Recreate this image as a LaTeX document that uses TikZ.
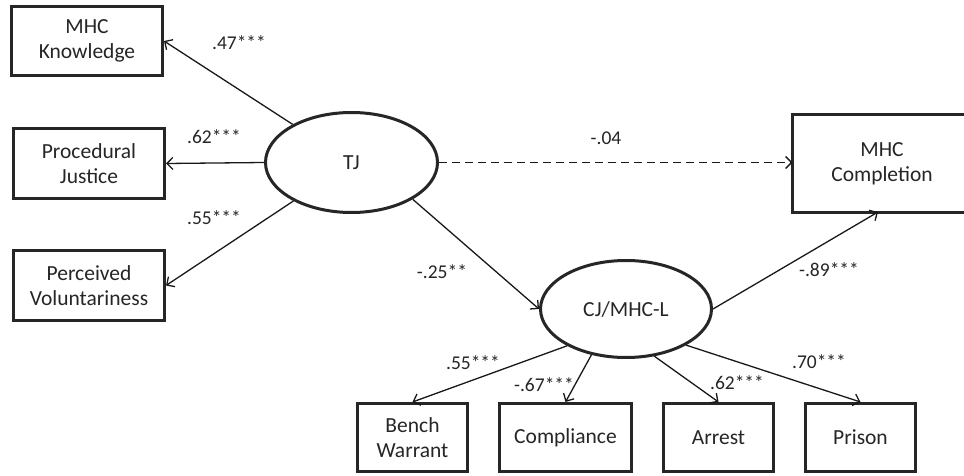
\documentclass[tikz,border=0pt]{standalone}
\usepackage{fontspec}
\setmainfont{Carlito}
\usetikzlibrary{arrows.meta,shapes.geometric}
\begin{document}
\begin{tikzpicture}[x=1pt,y=-1pt,
  obsbox/.style={draw=black!85,line width=3pt,rectangle,inner sep=0pt,align=center,
    font=\fontsize{21.5}{25}\selectfont,text=black!85},
  latent/.style={draw=black!85,line width=3pt,ellipse,inner sep=0pt,
    font=\fontsize{21.5}{25}\selectfont,text=black!85},
  path/.style={draw=black!90,line width=1.3pt,-{Straight Barb[length=6pt,width=12pt,line width=1.3pt]}},
  coef/.style={inner sep=0pt,font=\fontsize{19.5}{22}\selectfont,text=black!85}]
\useasboundingbox[fill=white] (0,0) rectangle (964,476);
% observed indicators of TJ
\node[obsbox,minimum width=151pt,minimum height=69pt] (mk) at (87,41) {MHC\\Knowledge};
\node[obsbox,minimum width=151pt,minimum height=70pt] (pj) at (89,163.5) {Procedural\\Justice};
\node[obsbox,minimum width=151pt,minimum height=70pt] (pv) at (89,285.5) {Perceived\\Voluntariness};
% latent variables
\node[latent,minimum width=172pt,minimum height=100pt] (tj) at (351.5,162.5) {TJ};
\node[latent,minimum width=171pt,minimum height=97pt] (cj) at (626,309) {CJ/MHC-L};
% outcome (box runs off the right edge of the picture)
\node[obsbox,draw=none,minimum width=176pt,minimum height=94pt] (mc) at (882,163.5) {MHC\\Completion};
\draw[draw=black!85,line width=3pt] (mc.north west) ++(200,0) -- (mc.north west) -- (mc.south west) -- ++(200,0);
% indicators of CJ/MHC-L
\node[obsbox,minimum width=110pt,minimum height=68pt] (bw) at (412.5,437.5) {Bench\\Warrant};
\node[obsbox,minimum width=132pt,minimum height=68pt] (co) at (565.5,437.5) {Compliance};
\node[obsbox,minimum width=110pt,minimum height=68pt] (ar) at (718.5,437.5) {Arrest};
\node[obsbox,minimum width=110pt,minimum height=68pt] (pr) at (860.5,437.5) {Prison};
% paths
\draw[path] (tj) -- (mk.east);
\draw[path] (tj.west) -- (pj.east);
\draw[path] (tj) -- (pv.east);
\draw[path,dashed,dash pattern=on 8pt off 5pt] (tj.east) -- (tj.east -| mc.west);
\draw[path] (tj.-31) -- (cj.west);
\draw[path] (cj.east) -- ([xshift=-4pt]mc.south);
\draw[path] (cj.212) -- (bw.north);
\draw[path] (cj.233) -- (co.north);
\draw[path] (cj.301) -- (ar.north);
\draw[path] (cj.329) -- (pr.north);
% coefficients
\node[coef] (c1) at (239,43) {.47***};
\node[coef] (c2) at (214,137) {.62***};
\node[coef] (c3) at (214,218) {.55***};
\node[coef] (c4) at (606,138) {-.04};
\node[coef] (c5) at (442,272) {-.25**};
\node[coef] (c6) at (829,270) {-.89***};
\node[coef] (c7) at (473,363) {.55***};
\node[coef] (c8) at (544,385) {-.67***};
\node[coef] (c9) at (737,383) {.62***};
\node[coef] (c10) at (819,362) {.70***};
\end{tikzpicture}
\end{document}
